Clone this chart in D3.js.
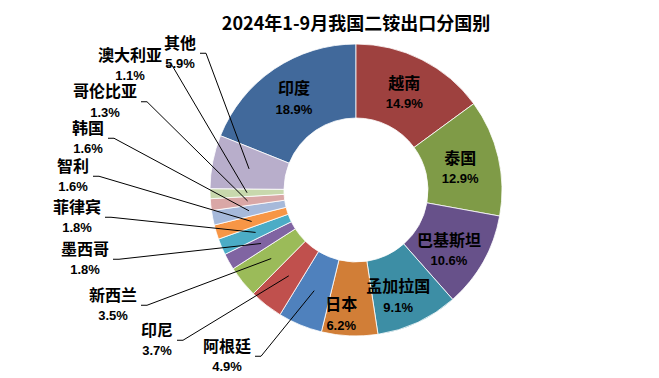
<!DOCTYPE html>
<html>
<head>
<meta charset="utf-8">
<script src="https://cdn.jsdelivr.net/npm/d3@7"></script>
<style>
  html, body { margin: 0; padding: 0; background: #ffffff; }
  svg { display: block; }
</style>
</head>
<body>
<svg id="chart" width="659" height="378"></svg>
<script>
// ---- data ----
const chartTitle = "2024年1-9月我国二铵出口分国别";
const categories = ["印度","越南","泰国","巴基斯坦","孟加拉国","日本","阿根廷","印尼","新西兰","墨西哥","菲律宾","智利","韩国","哥伦比亚","澳大利亚","其他"];
const shares = [18.9,14.9,12.9,10.6,9.1,6.2,4.9,3.7,3.5,1.8,1.8,1.6,1.6,1.3,1.1,5.9];
const shareLabels = ["18.9%","14.9%","12.9%","10.6%","9.1%","6.2%","4.9%","3.7%","3.5%","1.8%","1.8%","1.6%","1.6%","1.3%","1.1%","5.9%"];

// ---- styles / layout ----
const colors = ["#41699B","#9E413F","#7F9B47","#67518A","#3D8EA5","#D17E37",
                "#4F81BD","#C0504D","#9BBB59","#8064A2","#4BACC6","#F79646",
                "#A6B9DA","#D9A7A6","#C8D8AD","#B8AECB"];
const W = 659, H = 378;
const cx = 356, cy = 190, rOuter = 146, rInner = 72;
// inside labels: offset of name centre from arc centroid
const insideOffsets = {"印度":[-1,-11],"越南":[-1,-9.5],"泰国":[-2,-7.5],"巴基斯坦":[-2,-3.5],"孟加拉国":[-4,-2],"日本":[-10,6]};
// outside labels: name centre positions
const outsidePos = {"其他":[180,43],"澳大利亚":[130,55],"哥伦比亚":[105,91.5],"韩国":[88,128],"智利":[73,166],
                    "菲律宾":[77,207],"墨西哥":[85,249],"新西兰":[113,295],"印尼":[157,330],"阿根廷":[227,346]};
const lineGap = 20.5;

const svg = d3.select("#chart");
const total = d3.sum(shares);
const start = -(shares[0] / total) * 2 * Math.PI;

const pie = d3.pie().sort(null).value(d => d.v).startAngle(start).endAngle(start + 2 * Math.PI);
const data = categories.map((c, i) => ({c, v: shares[i], lab: shareLabels[i], col: colors[i]}));
const arcs = pie(data);
const arc = d3.arc().innerRadius(rInner).outerRadius(rOuter);

const g = svg.append("g").attr("transform", `translate(${cx},${cy})`);
g.selectAll("path").data(arcs).join("path")
  .attr("d", arc)
  .attr("fill", d => d.data.col)
  .attr("stroke", "#ffffff")
  .attr("stroke-width", 0.8);

// title
svg.append("text")
  .attr("x", cx).attr("y", 21.5)
  .attr("text-anchor", "middle").attr("dominant-baseline", "central")
  .style("font-family", "'Noto Sans CJK SC', sans-serif")
  .style("font-weight", "bold").style("font-size", "18px")
  .text(chartTitle);

const nameFont = "'Liberation Sans', 'Noto Sans CJK SC', sans-serif";
const pctFont = "'Liberation Sans', 'DejaVu Sans', sans-serif";
const lab = svg.append("g");
const lines = svg.append("g");

arcs.forEach(a => {
  const [mx, my] = arc.centroid(a);
  let x, y, outside = false;
  if (insideOffsets[a.data.c]) {
    x = cx + mx + insideOffsets[a.data.c][0];
    y = cy + my + insideOffsets[a.data.c][1];
  } else {
    [x, y] = outsidePos[a.data.c];
    outside = true;
  }
  const t = lab.append("text")
    .attr("x", x).attr("y", y)
    .attr("text-anchor", "middle").attr("dominant-baseline", "central")
    .style("font-family", nameFont).style("font-size", "16px").style("font-weight", "bold")
    .attr("fill", "#000")
    .text(a.data.c);
  lab.append("text")
    .attr("x", x).attr("y", y + lineGap)
    .attr("text-anchor", "middle").attr("dominant-baseline", "central")
    .style("font-family", pctFont).style("font-size", "13px").style("font-weight", "bold")
    .attr("fill", "#000")
    .text(a.data.lab);
  if (outside) {
    const w = t.node().getComputedTextLength();
    const sx = x + w / 2 + 4, sy = y + lineGap / 2;
    lines.append("path")
      .attr("d", d3.line()([[sx, sy], [sx + 6, sy], [cx + mx, cy + my]]))
      .attr("fill", "none").attr("stroke", "#000").attr("stroke-width", 1);
  }
});
</script>
</body>
</html>
